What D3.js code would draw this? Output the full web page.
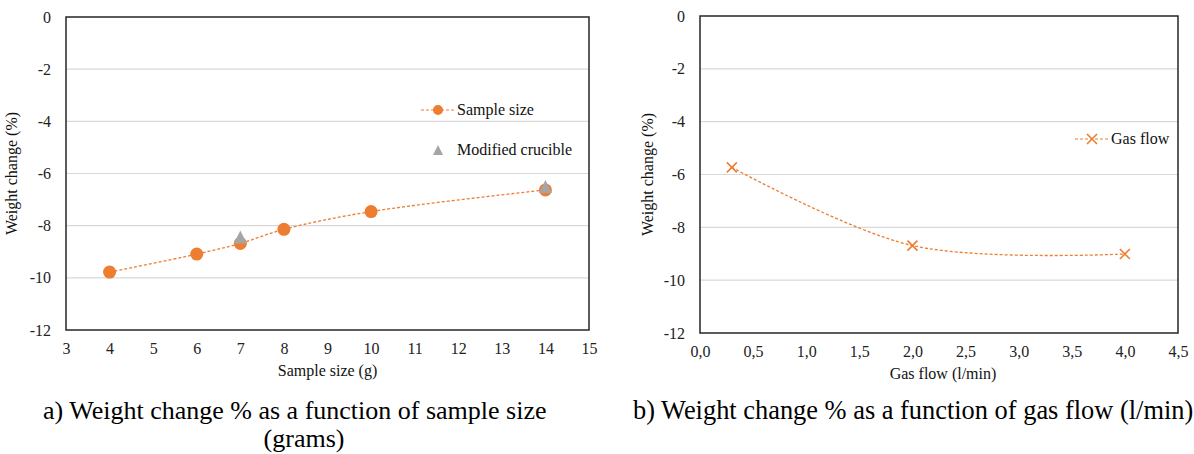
<!DOCTYPE html>
<html>
<head>
<meta charset="utf-8">
<script src="https://cdn.jsdelivr.net/npm/d3@7"></script>
<style>
  body { margin: 0; background: #fff; }
</style>
</head>
<body>
<svg id="svg" width="1194" height="454"></svg>
<script>
// panel a) - sample size
const sampleSizeX = [4, 6, 7, 8, 10, 14];
const sampleSizeY = [-9.78, -9.09, -8.68, -8.14, -7.46, -6.63];
const crucibleX = [7, 14];
const crucibleY = [-8.43, -6.5];
const sampleTicks = [3, 4, 5, 6, 7, 8, 9, 10, 11, 12, 13, 14, 15];

// panel b) - gas flow
const gasFlowX = [0.3, 2.0, 4.0];
const gasFlowY = [-5.73, -8.69, -9.01];
const gasTicks = [0, 0.5, 1, 1.5, 2, 2.5, 3, 3.5, 4, 4.5];

const yTicks = [0, -2, -4, -6, -8, -10, -12];

const orange = '#ed7d31';
const grey = '#a5a5a5';
const serif = "'Liberation Serif'";
const svg = d3.select('#svg');
const commaFmt = (d) => d.toFixed(1).replace('.', ',');
const plainFmt = (d) => String(d); // keeps the ascii hyphen for negatives

const drawMarker = (g, type, cx, cy, small) => {
  if (type === 'circle') {
    g.append('circle').attr('cx', cx).attr('cy', cy).attr('r', small ? 5 : 6.5).attr('fill', orange);
  } else if (type === 'triangle') {
    const s = small ? 5 : 6.5;
    g.append('path').attr('fill', grey)
      .attr('d', 'M' + cx + ',' + (cy - s) + 'L' + (cx + s) + ',' + (cy + s) + 'L' + (cx - s) + ',' + (cy + s) + 'Z');
  } else if (type === 'cross') {
    const s = 5;
    g.append('path').attr('stroke', orange).attr('stroke-width', 1.6).attr('fill', 'none')
      .attr('d', 'M' + (cx - s) + ',' + (cy - s) + 'L' + (cx + s) + ',' + (cy + s) +
        'M' + (cx + s) + ',' + (cy - s) + 'L' + (cx - s) + ',' + (cy + s));
  }
};

const drawPanel = (opt) => {
  const x = d3.scaleLinear().domain(opt.xDomain).range([opt.left, opt.right]);
  const y = d3.scaleLinear().domain([-12, 0]).range([opt.bottom, opt.top]);
  const g = svg.append('g');

  // horizontal gridlines
  g.append('g')
    .selectAll('line').data(yTicks.filter((d) => d !== 0 && d !== -12)).join('line')
    .attr('x1', opt.left).attr('x2', opt.right)
    .attr('y1', (d) => y(d)).attr('y2', (d) => y(d))
    .attr('stroke', '#d9d9d9').attr('stroke-width', 1.2);

  // axes (labels only, frame drawn separately)
  const yAxis = g.append('g').attr('transform', 'translate(' + opt.left + ',0)')
    .call(d3.axisLeft(y).tickValues(yTicks).tickSize(0).tickPadding(15).tickFormat(plainFmt));
  yAxis.select('.domain').remove();

  const xAxis = g.append('g').attr('transform', 'translate(0,' + opt.bottom + ')')
    .call(d3.axisBottom(x).tickValues(opt.xTicks).tickSize(0).tickPadding(13).tickFormat(opt.xFormat));
  xAxis.select('.domain').remove();

  g.selectAll('.tick text').style('font-size', '16px').attr('fill', '#222');

  // frame
  g.append('rect')
    .attr('x', opt.left).attr('y', opt.top)
    .attr('width', opt.right - opt.left).attr('height', opt.bottom - opt.top)
    .attr('fill', 'none').attr('stroke', '#262626').attr('stroke-width', 1.5);

  // axis titles
  g.append('text')
    .attr('transform', 'translate(' + opt.yTitleX + ',' + ((opt.top + opt.bottom) / 2) + ') rotate(-90)')
    .attr('text-anchor', 'middle').style('font-size', '16px').attr('fill', '#111')
    .text('Weight change (%)');
  g.append('text')
    .attr('x', (opt.left + opt.right) / 2 + opt.xTitleShift).attr('y', opt.bottom + 46)
    .attr('text-anchor', 'middle').style('font-size', '16px').attr('fill', '#111')
    .text(opt.xTitle);

  // captions
  opt.caption.forEach((c) => {
    g.append('text')
      .attr('x', c.x).attr('y', c.y)
      .attr('text-anchor', c.anchor).style('font-size', c.size + 'px').attr('fill', '#000')
      .text(c.text);
  });

  // series
  opt.series.forEach((s) => {
    const pts = s.xs.map((v, i) => [v, s.ys[i]]);
    if (s.line) {
      g.append('path').datum(pts)
        .attr('fill', 'none').attr('stroke', orange).attr('stroke-width', 1.3)
        .attr('stroke-dasharray', '3,2')
        .attr('d', d3.line().x((d) => x(d[0])).y((d) => y(d[1])).curve(d3.curveCatmullRom.alpha(0.5)));
    }
    pts.forEach((p) => drawMarker(g, s.marker, x(p[0]), y(p[1])));
  });

  // legend
  opt.legend.forEach((l) => {
    if (l.line) {
      g.append('line').attr('x1', l.x - 17).attr('x2', l.x + 17).attr('y1', l.y).attr('y2', l.y)
        .attr('stroke', orange).attr('stroke-width', 1.2).attr('stroke-dasharray', '3,2');
    }
    drawMarker(g, l.marker, l.x, l.y, true);
    g.append('text').attr('x', l.x + 19).attr('y', l.y + 5)
      .style('font-size', '16px').attr('fill', '#111').text(l.text);
  });
};

drawPanel({
  left: 66, right: 589, top: 17, bottom: 330,
  xDomain: [3, 15], xTicks: sampleTicks, xFormat: d3.format('d'),
  yTitleX: 17, xTitleShift: 0,
  xTitle: 'Sample size (g)',
  caption: [
    { x: 43, y: 419, size: 26, anchor: 'start', text: 'a) Weight change % as a function of sample size' },
    { x: 304, y: 447, size: 26, anchor: 'middle', text: '(grams)' }
  ],
  series: [
    { xs: sampleSizeX, ys: sampleSizeY, marker: 'circle', line: true },
    { xs: crucibleX, ys: crucibleY, marker: 'triangle', line: false }
  ],
  legend: [
    { x: 438, y: 110, marker: 'circle', line: true, text: 'Sample size' },
    { x: 438, y: 150, marker: 'triangle', line: false, text: 'Modified crucible' }
  ]
});

drawPanel({
  left: 700, right: 1178, top: 16, bottom: 333,
  xDomain: [0, 4.5], xTicks: gasTicks, xFormat: commaFmt,
  yTitleX: 653, xTitleShift: 4,
  xTitle: 'Gas flow (l/min)',
  caption: [
    { x: 633, y: 419, size: 26.4, anchor: 'start', text: 'b) Weight change % as a function of gas flow (l/min)' }
  ],
  series: [
    { xs: gasFlowX, ys: gasFlowY, marker: 'cross', line: true }
  ],
  legend: [
    { x: 1092, y: 139, marker: 'cross', line: true, text: 'Gas flow' }
  ]
});

// every label in the Times-like face
svg.selectAll('text').style('font-family', serif);
</script>
</body>
</html>
